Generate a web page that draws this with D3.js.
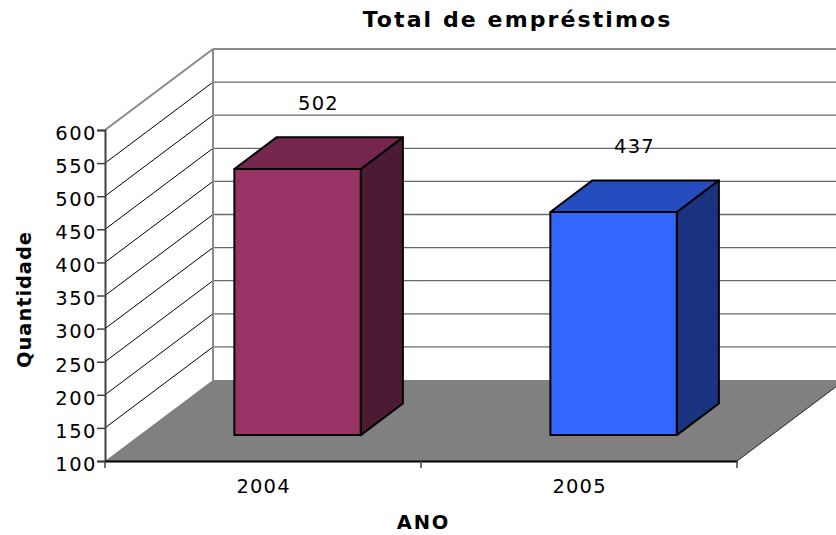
<!DOCTYPE html>
<html>
<head>
<meta charset="utf-8">
<script src="https://cdn.jsdelivr.net/npm/d3@7"></script>
<style>
  body { margin: 0; background: #fff; }
  svg { display: block; font-family: "DejaVu Sans", Verdana, sans-serif; }
</style>
</head>
<body>
<svg></svg>
<script>
// dados
const years = ["2004", "2005"];
const totals = [502, 437];
const yTicks = [100, 150, 200, 250, 300, 350, 400, 450, 500, 550, 600];

const chartTitle = "Total de empréstimos";
const xTitle = "ANO";
const yTitle = "Quantidade";

// cores das barras (frente, topo, lado)
const barColors = [
  { front: "#993366", top: "#74264c", side: "#4d1a33" },
  { front: "#3366ff", top: "#264dbf", side: "#1a3380" }
];

const width = 836;
const height = 535;

// profundidade do efeito 3D
const DX = 108, DY = -81;
const f0 = 0.32, f1 = 0.71;

const svg = d3.select("svg")
  .attr("width", width)
  .attr("height", height);

const x = d3.scaleBand()
  .domain(years)
  .range([105, 737])
  .paddingInner(0.6)
  .paddingOuter(0.3);

const y = d3.scaleLinear()
  .domain([100, 600])
  .range([461, 130]);

const x0 = x.range()[0], x1 = x.range()[1];
const yMin = y(y.domain()[0]), yMax = y(y.domain()[1]);

// parede do fundo
svg.append("rect")
  .attr("x", x0 + DX).attr("y", yMax + DY)
  .attr("width", x1 - x0 + 20).attr("height", yMin - yMax)
  .attr("fill", "#fff");

svg.append("g").selectAll("line")
  .data(yTicks.slice(1))
  .join("line")
  .attr("x1", x0 + DX).attr("x2", x1 + DX + 20)
  .attr("y1", d => y(d) + DY).attr("y2", d => y(d) + DY)
  .attr("stroke", d => d === 600 ? "#8a8a8a" : "#6a6a6a")
  .attr("stroke-width", d => d === 600 ? 2 : 1.3);

// parede lateral
svg.append("g").selectAll("line")
  .data(yTicks.slice(1))
  .join("line")
  .attr("x1", x0).attr("y1", d => y(d))
  .attr("x2", x0 + DX).attr("y2", d => y(d) + DY)
  .attr("stroke", d => d === 600 ? "#8a8a8a" : "#000")
  .attr("stroke-width", d => d === 600 ? 2 : 1);

svg.append("line")
  .attr("x1", x0 + DX).attr("x2", x0 + DX)
  .attr("y1", yMax + DY).attr("y2", yMin + DY)
  .attr("stroke", "#8a8a8a").attr("stroke-width", 2);

// piso
svg.append("path")
  .attr("d", d3.line()([[x0, yMin], [x1, yMin], [x1 + DX, yMin + DY], [x0 + DX, yMin + DY]]) + "Z")
  .attr("fill", "#808080");

svg.append("line")
  .attr("x1", x1).attr("y1", yMin)
  .attr("x2", x1 + DX).attr("y2", yMin + DY)
  .attr("stroke", "#222").attr("stroke-width", 1);

// barras
const bw = x.bandwidth();
const ddx = (f1 - f0) * DX, ddy = (f1 - f0) * DY;
const line = d3.line();

const bars = svg.append("g").selectAll("g")
  .data(years.map((yr, i) => ({ yr, v: totals[i], c: barColors[i] })))
  .join("g")
  .attr("stroke", "#000")
  .attr("stroke-width", 2)
  .attr("stroke-linejoin", "round");

bars.each(function (d) {
  const g = d3.select(this);
  const xl = x(d.yr) + f0 * DX, xr = xl + bw;
  const yb = y(100) + f0 * DY, yt = y(d.v) + f0 * DY;
  g.append("path")
    .attr("d", line([[xr, yt], [xr + ddx, yt + ddy], [xr + ddx, yb + ddy], [xr, yb]]) + "Z")
    .attr("fill", d.c.side);
  g.append("path")
    .attr("d", line([[xl, yt], [xr, yt], [xr + ddx, yt + ddy], [xl + ddx, yt + ddy]]) + "Z")
    .attr("fill", d.c.top);
  g.append("rect")
    .attr("x", xl).attr("y", yt)
    .attr("width", bw).attr("height", yb - yt)
    .attr("fill", d.c.front);
});

// rótulos dos valores
svg.append("g").selectAll("text")
  .data(years.map((yr, i) => ({ yr, v: totals[i] })))
  .join("text")
  .attr("x", d => x(d.yr) + bw / 2 + 0.5 * DX + 1.5)
  .attr("y", d => y(d.v) + 0.5 * DY - 44)
  .attr("text-anchor", "middle")
  .attr("font-size", 19.5)
  .attr("letter-spacing", 1.2)
  .attr("fill", "#000")
  .text(d => d.v);

// eixo Y
const yAxis = svg.append("g")
  .attr("transform", `translate(${x0},0)`)
  .call(d3.axisLeft(y).tickValues(yTicks).tickSize(8).tickPadding(0));
yAxis.select(".domain").attr("stroke", "#404040").attr("stroke-width", 2);
yAxis.selectAll(".tick line").attr("stroke", "#404040").attr("stroke-width", 1.5);
yAxis.selectAll(".tick text")
  .attr("dy", 9.3)
  .attr("font-size", 19.5)
  .attr("letter-spacing", 1.5)
  .attr("fill", "#000")
  .attr("font-family", "DejaVu Sans, Verdana, sans-serif");

// eixo X
const xAxis = svg.append("g")
  .attr("transform", `translate(0,${yMin})`)
  .call(d3.axisBottom(x).tickSize(0));
xAxis.select(".domain").attr("stroke", "#000").attr("stroke-width", 2);
xAxis.selectAll(".tick text")
  .attr("y", 32)
  .attr("dy", 0)
  .attr("dx", 0.6)
  .attr("font-size", 19.5)
  .attr("letter-spacing", 1.2)
  .attr("fill", "#000")
  .attr("font-family", "DejaVu Sans, Verdana, sans-serif");

const bounds = years.map(d => x(d) - x.step() * x.paddingInner() / 2).concat([x1]);
xAxis.append("g").selectAll("line")
  .data(bounds)
  .join("line")
  .attr("x1", d => d).attr("x2", d => d)
  .attr("y1", 0).attr("y2", 7)
  .attr("stroke", "#404040").attr("stroke-width", 1.5);

// títulos
svg.append("text")
  .attr("x", 517.5).attr("y", 27)
  .attr("text-anchor", "middle")
  .attr("font-size", 22)
  .attr("font-weight", "bold")
  .attr("letter-spacing", 2.1)
  .text(chartTitle);

svg.append("text")
  .attr("x", 423.5).attr("y", 529)
  .attr("text-anchor", "middle")
  .attr("font-size", 19.5)
  .attr("font-weight", "bold")
  .attr("letter-spacing", 1.8)
  .text(xTitle);

svg.append("text")
  .attr("transform", "translate(31,299.5) rotate(-90)")
  .attr("text-anchor", "middle")
  .attr("font-size", 19.5)
  .attr("font-weight", "bold")
  .attr("letter-spacing", 0.9)
  .text(yTitle);
</script>
</body>
</html>
